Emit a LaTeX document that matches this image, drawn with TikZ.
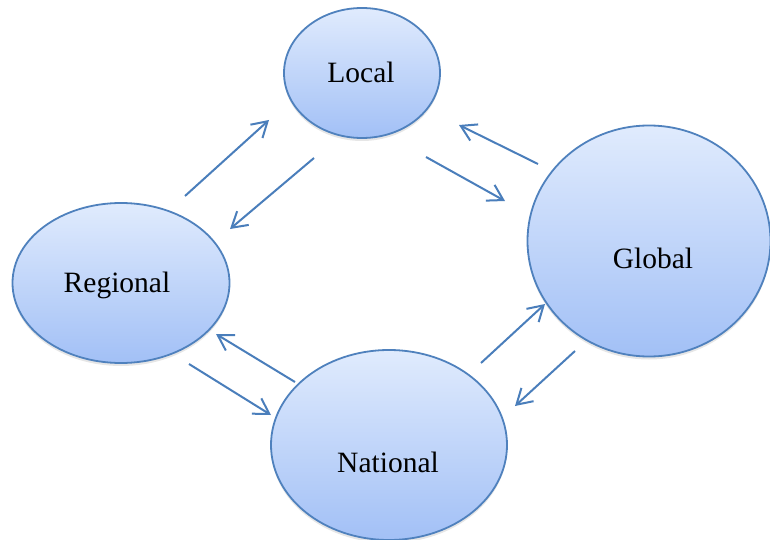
\documentclass[tikz,border=0pt]{standalone}
\usepackage{fontspec}
\setmainfont{Liberation Serif}
\usetikzlibrary{shapes.geometric}
\usetikzlibrary{shadows}
\usetikzlibrary{arrows.meta}
\definecolor{rimblue}{HTML}{4F81BD}
\definecolor{arrowblue}{HTML}{4A7EBB}
\definecolor{topfill}{HTML}{E0EBFD}
\definecolor{botfill}{HTML}{A2C0F6}

\begin{document}
\begin{tikzpicture}[x=1pt, y=-1pt,
    level/.style={ellipse, draw=rimblue, line width=1.8pt, top color=topfill,
      bottom color=botfill, inner sep=0pt,
      drop shadow={opacity=0.2, shadow xshift=0pt, shadow yshift=-3pt}},
    lbl/.style={anchor=base, font=\fontsize{29.5}{34}\selectfont},
    flow/.style={draw=arrowblue, line width=2pt,
      -{Straight Barb[length=15pt,width=18pt]}}]
  \useasboundingbox (0,0) rectangle (770,540);

  % the four levels
  \node[level, minimum width=156, minimum height=130] (local) at (362,73) {};
  \node[level, minimum width=243, minimum height=231] (global) at (649,241) {};
  \node[level, minimum width=217, minimum height=160] (regional) at (121,283) {};
  \node[level, minimum width=236, minimum height=190] (national) at (389,445) {};
  \node[lbl] (localtxt) at (361,83) {Local};
  \node[lbl] (globaltxt) at (653,268) {Global};
  \node[lbl] (regionaltxt) at (117,292) {Regional};
  \node[lbl] (nationaltxt) at (388,472) {National};

  % arrow ends
  \coordinate (rl1) at (185,196); \coordinate (rl2) at (269,120);
  \coordinate (lr1) at (314,158); \coordinate (lr2) at (230,229);
  \coordinate (lg1) at (426,157); \coordinate (lg2) at (505,201);
  \coordinate (gl1) at (538,164); \coordinate (gl2) at (459,125);
  \coordinate (ng1) at (481,363); \coordinate (ng2) at (545,304);
  \coordinate (gn1) at (575,351); \coordinate (gn2) at (515,406);
  \coordinate (nr1) at (295,382); \coordinate (nr2) at (216,334);
  \coordinate (rn1) at (189,364); \coordinate (rn2) at (271,415);
  \foreach \p in {rl,lr,lg,gl,ng,gn,nr,rn}
    \draw[flow] (\p1) -- (\p2);
\end{tikzpicture}
\end{document}
